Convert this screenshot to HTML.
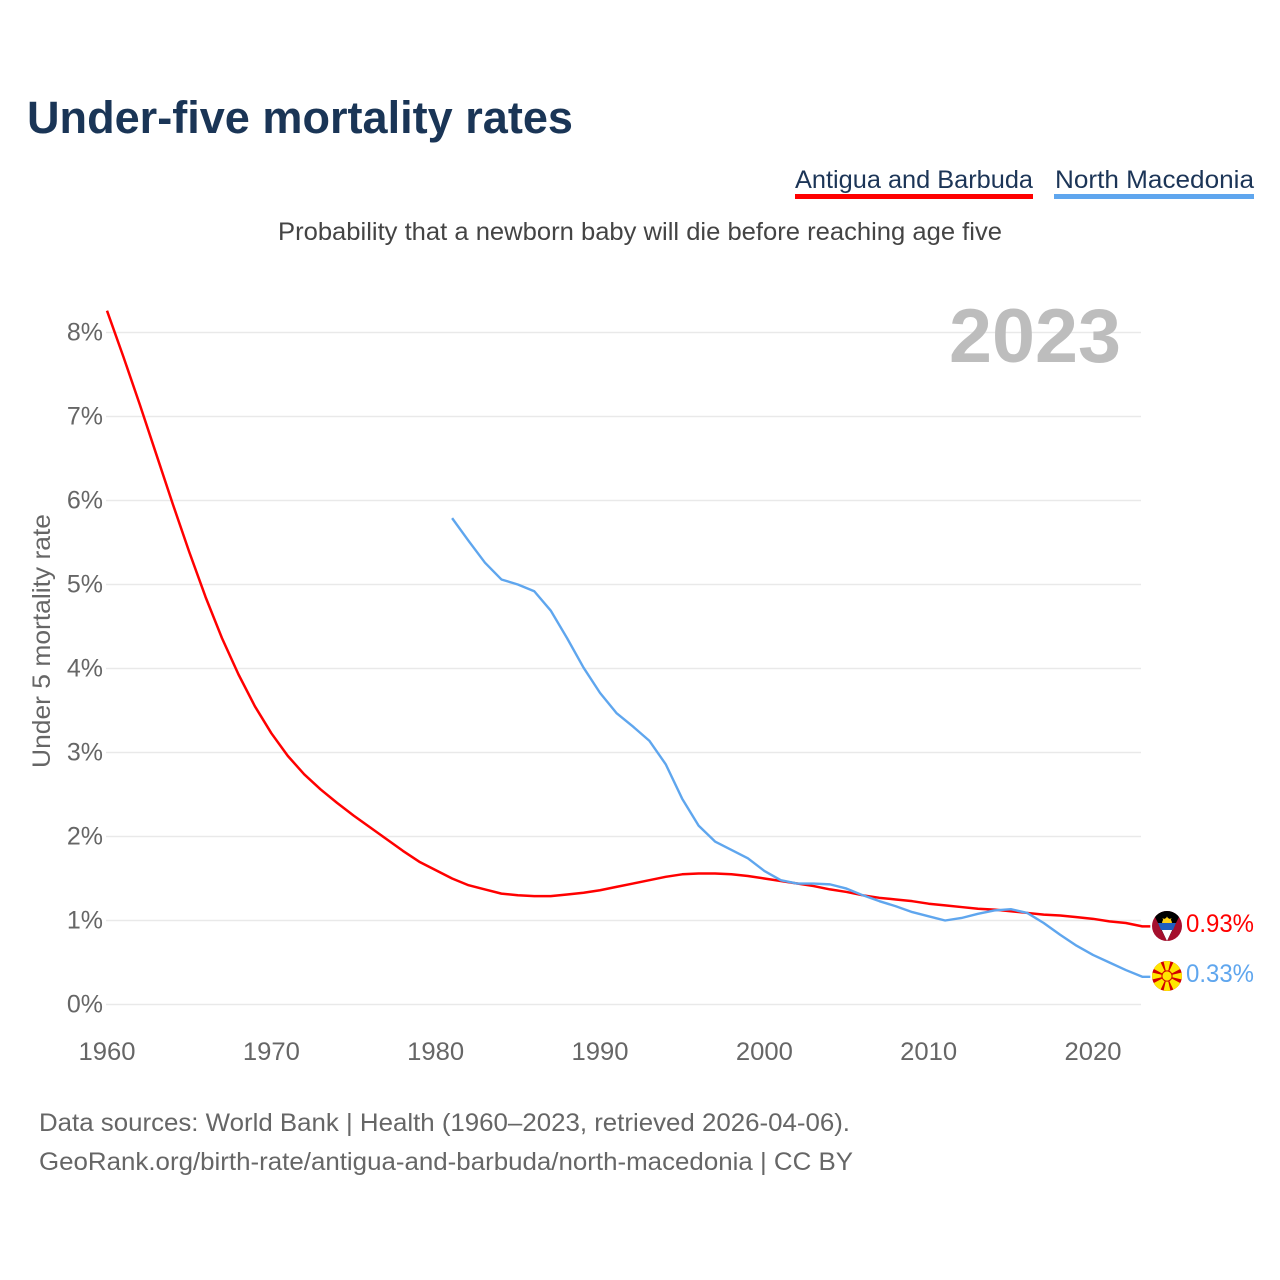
<!DOCTYPE html>
<html lang="en">
<head>
<meta charset="utf-8">
<title>Under-five mortality rates</title>
<style>
html,body{margin:0;padding:0;background:#fff;width:1280px;height:1280px;overflow:hidden}
svg{display:block}
text{font-family:"Liberation Sans",sans-serif}
</style>
</head>
<body>
<svg id="chart" xmlns="http://www.w3.org/2000/svg" width="1280" height="1280" viewBox="0 0 1280 1280">
  <rect width="1280" height="1280" fill="#fff"/>
  <text x="27" y="133" font-size="45" font-weight="700" fill="#1a3556" textLength="546" lengthAdjust="spacingAndGlyphs">Under-five mortality rates</text>

  <g>
    <text x="795" y="188" font-size="25" fill="#1c3557" textLength="238" lengthAdjust="spacingAndGlyphs">Antigua and Barbuda</text>
    <rect x="795" y="194" width="238" height="5" fill="#ff0000"/>
  </g>
  <g>
    <text x="1055" y="188" font-size="25" fill="#1c3557" textLength="199" lengthAdjust="spacingAndGlyphs">North Macedonia</text>
    <rect x="1054" y="194" width="200" height="5" fill="#5fa6ee"/>
  </g>

  <text x="278" y="240" font-size="25" fill="#444" textLength="724" lengthAdjust="spacingAndGlyphs">Probability that a newborn baby will die before reaching age five</text>

  <g id="grid"></g>
  <g id="yticks"></g>
  <g id="xticks"></g>

  <text x="949" y="362" font-size="76" font-weight="700" fill="#bdbdbd" textLength="172" lengthAdjust="spacingAndGlyphs">2023</text>

  <text transform="translate(50,768) rotate(-90)" font-size="25" fill="#666" textLength="254" lengthAdjust="spacingAndGlyphs">Under 5 mortality rate</text>

  <g id="series"></g>

  <defs>
    <clipPath id="clipA"><circle cx="1167" cy="926" r="15"/></clipPath>
    <clipPath id="clipM"><circle cx="1167" cy="976" r="15"/></clipPath>
  </defs>
  <g id="flag-antigua">
    <g clip-path="url(#clipA)">
      <rect x="1152" y="911" width="30" height="30" fill="#a50f2d"/>
      <polygon points="1152,911 1182,911 1167,941" fill="#000"/>
      <polygon points="1158.5,923 1175.5,923 1167,941" fill="#fff"/>
      <polygon points="1158,923 1176,923 1173,930 1161,930" fill="#1f5fbf"/>
      <path d="M1162 923 a5 5 0 0 1 10 0 z" fill="#fcd116"/>
      <polygon points="1167,916.5 1168.5,919 1165.5,919" fill="#fcd116"/>
      <polygon points="1162.5,918 1165,919.5 1163.5,921" fill="#fcd116"/>
      <polygon points="1171.5,918 1169,919.5 1170.5,921" fill="#fcd116"/>
    </g>
  </g>
  <g id="flag-macedonia">
    <g clip-path="url(#clipM)">
      <rect x="1152" y="961" width="30" height="30" fill="#d20000"/>
      <polygon points="1163.5,961 1170.5,961 1167,976" fill="#ffe600"/>
      <polygon points="1163.5,991 1170.5,991 1167,976" fill="#ffe600"/>
      <polygon points="1152,972.5 1152,979.5 1167,976" fill="#ffe600"/>
      <polygon points="1182,972.5 1182,979.5 1167,976" fill="#ffe600"/>
      <polygon points="1152,961 1160,961 1167,976 1152,968" fill="#ffe600"/>
      <polygon points="1182,961 1174,961 1167,976 1182,968" fill="#ffe600"/>
      <polygon points="1152,991 1160,991 1167,976 1152,984" fill="#ffe600"/>
      <polygon points="1182,991 1174,991 1167,976 1182,984" fill="#ffe600"/>
      <circle cx="1167" cy="976" r="5.6" fill="#d20000"/>
      <circle cx="1167" cy="976" r="4.6" fill="#ffe600"/>
    </g>
  </g>

  <text id="end-label-antigua" x="1186" y="932" font-size="25" fill="#ff0000" textLength="68" lengthAdjust="spacingAndGlyphs">0.93%</text>
  <text id="end-label-macedonia" x="1186" y="982" font-size="25" fill="#5fa6ee" textLength="68" lengthAdjust="spacingAndGlyphs">0.33%</text>

  <text x="39" y="1131" font-size="25" fill="#666" textLength="811" lengthAdjust="spacingAndGlyphs">Data sources: World Bank | Health (1960–2023, retrieved 2026-04-06).</text>
  <text x="39" y="1170" font-size="25" fill="#666" textLength="814" lengthAdjust="spacingAndGlyphs">GeoRank.org/birth-rate/antigua-and-barbuda/north-macedonia | CC BY</text>
</svg>
<script>
const yTickValues = [0, 1, 2, 3, 4, 5, 6, 7, 8];
const xTickYears = [1960, 1970, 1980, 1990, 2000, 2010, 2020];
const antiguaStartYear = 1960;
const antiguaValues = [8.26, 7.71, 7.14, 6.55, 5.96, 5.39, 4.85, 4.36, 3.93, 3.55,
  3.23, 2.96, 2.74, 2.56, 2.40, 2.25, 2.11, 1.97, 1.83, 1.70,
  1.60, 1.50, 1.42, 1.37, 1.32, 1.30, 1.29, 1.29, 1.31, 1.33,
  1.36, 1.40, 1.44, 1.48, 1.52, 1.55, 1.56, 1.56, 1.55, 1.53,
  1.50, 1.47, 1.44, 1.41, 1.37, 1.34, 1.30, 1.27, 1.25, 1.23,
  1.20, 1.18, 1.16, 1.14, 1.13, 1.11, 1.09, 1.07, 1.06, 1.04,
  1.02, 0.99, 0.97, 0.93];
const macedoniaStartYear = 1981;
const macedoniaValues = [5.79, 5.52, 5.26, 5.06, 5.00, 4.92, 4.69, 4.36, 4.01,
  3.71, 3.47, 3.31, 3.14, 2.86, 2.45, 2.13, 1.94, 1.84, 1.74,
  1.59, 1.48, 1.44, 1.44, 1.43, 1.38, 1.30, 1.23, 1.17, 1.10,
  1.05, 1.00, 1.03, 1.08, 1.12, 1.135, 1.09, 0.97, 0.83, 0.70,
  0.59, 0.50, 0.41, 0.33];

const NS = 'http://www.w3.org/2000/svg';
function xScale(year) { return 107 + (year - 1960) * (986 / 60); }
function yScale(value) { return 1004.5 - value * 84; }
function make(tag, attrs, parent) {
  const el = document.createElementNS(NS, tag);
  for (const k in attrs) el.setAttribute(k, attrs[k]);
  parent.appendChild(el);
  return el;
}

const grid = document.getElementById('grid');
const yticks = document.getElementById('yticks');
const xticks = document.getElementById('xticks');
const seriesGroup = document.getElementById('series');

yTickValues.forEach(function (v) {
  const line = make('line', { x1: 106, x2: 1141, y1: yScale(v), y2: yScale(v), stroke: '#e9e9e9', 'stroke-width': 1.5 }, grid);
  
  
  const label = make('text', { x: 103, y: yScale(v) + 8, 'text-anchor': 'end', 'font-size': 25, fill: '#666' }, yticks);
  
  
  label.textContent = v + '%';
});

xTickYears.forEach(function (year) {
  const label = make('text', { x: xScale(year), y: 1060, 'text-anchor': 'middle', 'font-size': 25, fill: '#666', textLength: 57, lengthAdjust: 'spacingAndGlyphs' }, xticks);
  
  
  label.textContent = year;
});

function linePoints(startYear, values) {
  const pts = values.map(function (v, i) {
    return xScale(startYear + i).toFixed(2) + ',' + yScale(v).toFixed(2);
  });
  const last = values[values.length - 1];
  pts.push((xScale(startYear + values.length - 1) + 8).toFixed(2) + ',' + yScale(last).toFixed(2));
  return pts.join(' ');
}

const antiguaLine = make('polyline', { points: linePoints(antiguaStartYear, antiguaValues), fill: 'none', stroke: '#ff0000', 'stroke-width': 2.5, 'stroke-linejoin': 'round' }, seriesGroup);



const macedoniaLine = make('polyline', { points: linePoints(macedoniaStartYear, macedoniaValues), fill: 'none', stroke: '#5fa6ee', 'stroke-width': 2.4, 'stroke-linejoin': 'round' }, seriesGroup);



document.getElementById('end-label-antigua').textContent = antiguaValues[antiguaValues.length - 1].toFixed(2) + '%';
document.getElementById('end-label-macedonia').textContent = macedoniaValues[macedoniaValues.length - 1].toFixed(2) + '%';
</script>
</body>
</html>
